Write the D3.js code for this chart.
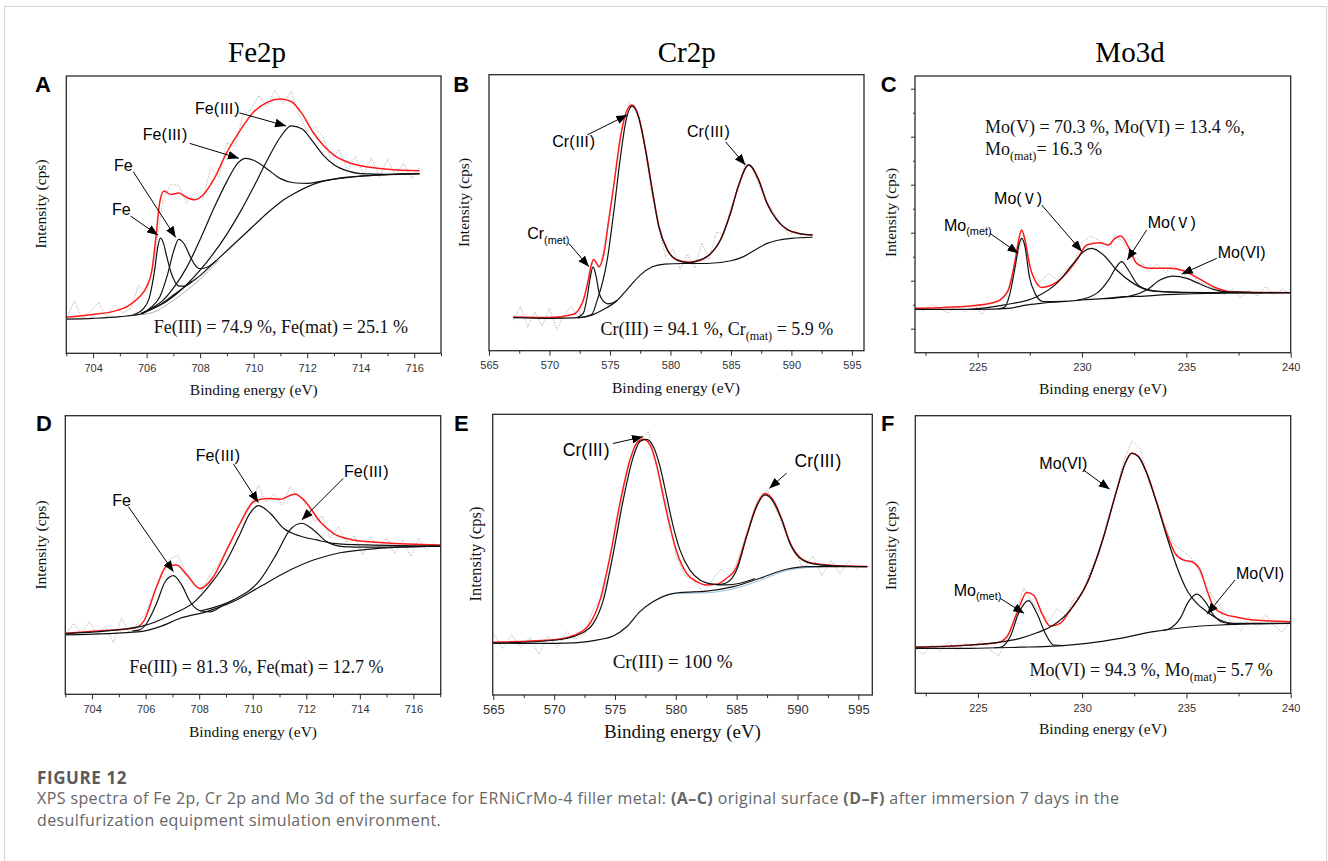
<!DOCTYPE html>
<html>
<head>
<meta charset="utf-8">
<script src="https://cdn.jsdelivr.net/npm/d3@7"></script>
<style>
body { margin: 0; background: #fff; }
</style>
</head>
<body>
<div id="fig"></div>
<script>

// ---- tick values ----
const feTicks = [704, 706, 708, 710, 712, 714, 716];
const feMinor = [703, 705, 707, 709, 711, 713, 715, 717];
const crTicks = [565, 570, 575, 580, 585, 590, 595];
const crMinor = [567.5, 572.5, 577.5, 582.5, 587.5, 592.5];
const moTicks = [225, 230, 235, 240];
const moMinor = [222.5, 227.5, 232.5, 237.5];
const moYTicks = [4000, 6000, 8000, 10000, 12000, 14000];
const moYMinor = [5000, 7000, 9000, 11000, 13000];

// ---- A: Fe 2p, original surface  [eV, intensity a.u.] ----
const feA_bg = [[703.0,12.3],[704.0,12.6],[705.0,13.2],[705.8,14.2],[706.1,15.6],[706.5,17.5],[707.0,21],[707.5,24.5],[708.0,28],[708.5,32.5],[709.0,37],[709.5,41.5],[710.0,46],[710.5,50.5],[711.0,54.5],[711.5,57.5],[712.0,60],[712.5,61.8],[713.0,62.8],[713.5,63.5],[714.0,63.9],[715.0,64.4],[716.2,64.8]];
const feA_bg2 = [[705.8,13.9],[706.3,15],[706.8,17.8],[707.3,21.2],[707.8,25],[708.3,29.5],[708.7,33.6]];
const feA_fe1 = [[705.5,13.9],[705.9,16.3],[706.1,20],[706.3,30],[706.42,38.5],[706.52,41.5],[706.62,40],[706.75,35],[706.9,29.5],[707.05,26],[707.2,24.3],[707.4,24.2],[707.7,26]];
const feA_fe2 = [[705.8,14.3],[706.2,16.8],[706.5,20.5],[706.8,29],[707.0,36.5],[707.2,41.1],[707.4,39.5],[707.6,35.5],[707.8,32],[708.0,30.5],[708.3,31.2],[708.6,33.4]];
const feA_fe3a = [[705.8,14.3],[706.2,16.3],[706.6,19],[707.0,23.5],[707.5,31],[708.0,41],[708.5,52],[709.0,62],[709.4,68.5],[709.7,70.3],[710.0,69.6],[710.5,66.5],[711.0,63],[711.5,61.5],[712.0,61.3],[712.5,62],[713.0,62.8],[714.0,63.9],[716.2,64.8]];
const feA_fe3b = [[705.8,14.3],[706.5,17.3],[707.0,20.5],[707.5,24.8],[708.0,30],[708.5,36],[709.0,43],[709.5,51],[710.0,60],[710.5,69.5],[711.0,78],[711.4,82],[711.8,81],[712.2,76.5],[712.6,71.5],[713.0,68],[713.5,65.8],[714.0,64.8],[715.0,64.5],[716.2,64.8]];
const feA_env = [[703.0,13],[704.0,14],[704.8,15.2],[705.3,17],[705.7,20],[706.0,24],[706.2,30],[706.35,42],[706.5,55],[706.65,58.5],[706.9,57.3],[707.2,57.8],[707.5,56.2],[707.8,55.4],[708.1,57],[708.5,62.5],[709.0,72.5],[709.5,80.5],[710.0,87],[710.5,90.5],[711.0,91.7],[711.4,90.8],[711.8,86.5],[712.2,80],[712.6,75],[713.0,71.5],[713.5,69],[714.0,67.6],[715.0,66.4],[716.2,65.8]];
const feA_raw = [12,19,12.5,15,18.5,13,17.5,14.5,16,24.5,22,34,55,61,60.5,54,58,55.5,67,63.5,76,74.5,86,88,93,89,95,90,94.5,86,80,81.5,78,70,73.5,66,71,64.5,70.5,63.5,70,64,68.5,63,67];

// ---- B: Cr 2p, original surface ----
const crB_bg = [[567.0,12],[570.0,11.7],[572.5,12],[573.5,12.9],[574.5,15],[575.5,17.8],[576.5,22.6],[577.5,27.4],[578.5,30.4],[579.5,31.4],[581.0,31.6],[583.0,31.6],[585.0,32.6],[586.0,34],[587.0,36.5],[588.0,38.9],[589.0,40.1],[590.0,40.7],[591.75,41.1]];
const crB_met = [[572.3,12],[572.8,13.6],[573.1,19],[573.35,26],[573.6,30.4],[573.85,27],[574.1,21],[574.4,18.2],[574.8,17],[575.2,17.3],[575.6,18.3]];
const crB_iii1 = [[572.5,12],[573.5,13.2],[573.95,18.4],[574.4,25],[574.77,32.8],[575.3,49.8],[575.87,70.3],[576.28,82.4],[576.84,88.6],[577.39,84.2],[577.94,72.7],[578.49,58.2],[579.04,44.9],[579.73,36.5],[580.55,32.9],[581.38,31.9],[582.2,31.6]];
const crB_iii2 = [[581.5,31.6],[581.9,32.2],[583.03,34.1],[584.13,40.1],[584.96,49.8],[585.64,60],[586.47,67.3],[587.3,61.8],[587.98,53.4],[588.81,47.3],[589.63,44],[590.6,42.5],[591.75,41.9]];
const crB_env = [[567.0,12.2],[570.0,12],[572.0,13.2],[572.5,15.5],[572.85,19],[573.2,25.5],[573.45,31],[573.67,33],[573.85,32],[574.08,30.4],[574.5,35.3],[574.9,47.3],[575.3,59.4],[575.87,77.5],[576.42,87.2],[576.84,89],[577.39,84.6],[577.94,73],[578.49,58.5],[579.04,45.2],[579.73,36.8],[580.28,33.5],[581.38,32.1],[581.9,32.2],[583.03,34.1],[584.13,40.1],[584.96,49.8],[585.64,60],[586.47,67.3],[587.3,61.8],[587.98,53.4],[588.81,47.3],[589.63,44],[590.6,42.5],[591.75,41.9]];
const crB_raw = [11,16,8.5,14,9,15.5,7.5,13,16,11.5,22,33,30,45,62,80,90,87,76,58,45,34,37,29.5,35,30,39,33,43,42,52,58,68,66,59,54,49.5,45.5,42,43.5,40.5,42.5];

// ---- C: Mo 3d, original surface  [eV, counts] ----
const moC_bg = [[222,4806],[225,4806],[226.5,4847],[227.3,4986],[228,5056],[229,5125],[230,5195],[231,5250],[232,5334],[233,5361],[234,5417],[235,5445],[236,5472],[237,5486],[240,5500]];
const moC_met = [[226.0,4830],[226.3,4900],[226.55,5472],[226.8,6584],[227.0,7556],[227.11,7764],[227.27,7417],[227.48,6167],[227.75,5472],[228.15,5125],[229.2,5135]];
const moC_v1 = [[224.6,4806],[226.23,4986],[227.83,5334],[228.79,5889],[229.59,6723],[230.07,7209],[230.47,7348],[231.03,7070],[231.66,6445],[232.46,5889],[233.26,5584],[234.22,5528],[235.82,5500],[237.4,5528],[238.5,5500]];
const moC_v2 = [[229.75,5180],[230.7,5472],[231.27,6028],[231.66,6584],[231.9,6792],[232.22,6445],[232.62,5889],[233.1,5639],[233.9,5542],[235.0,5514],[236.0,5500]];
const moC_vi = [[231.03,5250],[232.3,5361],[233.1,5611],[233.74,6028],[234.38,6195],[235.02,6097],[235.66,5861],[236.3,5639],[237.1,5528],[240,5500]];
const moC_env = [[222,4847],[224.6,4945],[225.9,5125],[226.47,5611],[226.8,6861],[227.0,7834],[227.11,8112],[227.27,7695],[227.51,6584],[227.83,5889],[228.07,5722],[228.55,5820],[229.1,6167],[229.75,6861],[230.23,7486],[230.87,7584],[231.27,7486],[231.58,7764],[231.86,7862],[232.22,7417],[232.62,6723],[233.26,6514],[234.22,6514],[234.86,6417],[235.58,6097],[236.3,5750],[237.1,5542],[240,5500]];
const moC_raw = [4900,4750,5000,4850,4650,4950,4700,5050,4600,5000,5200,5450,6800,7900,6300,5950,6300,6050,6450,6700,7600,7850,7700,7450,7900,7600,7050,6800,6400,6700,6350,6650,6250,6300,5950,5800,5650,5400,5650,5300,5600,5350,5750,5400,5650,5450];

// ---- D: Fe 2p, after immersion ----
const feD_bg = [[703.0,21.3],[705.8,22.5],[706.54,24.3],[707.29,27.3],[708.28,29.7],[709.28,33.3],[710.27,38.6],[711.27,44],[712.27,48.2],[713.26,50.8],[714.26,52],[715.5,52.8],[717.0,53.2]];
const feD_fe = [[705.5,22.7],[705.8,23.2],[706.04,25.5],[706.41,32.7],[706.73,40.4],[707.04,42.6],[707.35,39.2],[707.66,33.3],[708.03,30],[708.41,29.6],[708.8,31.4]];
const feD_iii1 = [[703.0,21.8],[705.8,24.3],[707.04,28.9],[707.8,33],[708.5,40.5],[709.0,47.5],[709.5,57],[709.9,65],[710.21,67.7],[710.65,65],[711.15,59.6],[711.77,56.8],[712.39,55.4],[713.01,54.2],[714.26,53.6],[717.0,53.2]];
const feD_iii2 = [[708.03,29.9],[709.28,33.9],[710.27,41],[710.9,50.6],[711.39,59],[711.83,61.4],[712.27,59],[712.76,54.8],[713.39,53],[714.26,52.8],[717.0,53.2]];
const feD_env = [[703.0,21.9],[704.3,22.8],[705.54,23.7],[705.92,26.1],[706.41,38.6],[706.79,46],[707.16,46.4],[707.54,42.8],[708.03,38],[708.53,42.2],[709.03,51.8],[709.53,61.4],[710.03,69.1],[710.52,70.3],[711.02,70],[711.58,71.9],[712.02,68.5],[712.51,62],[713.01,57.8],[713.76,55.4],[714.88,54.4],[717.0,53.6]];
const feD_raw = [21,25.5,22,26,21.5,24.5,18.5,27.5,22,25.5,29,36,44,48.5,50,44,40,37,43,46,52,56.5,63,67,75,69,72,68,74.5,71,69.5,62,64,56,60,54.5,57,50,56.5,53,56,50.5,55.5,49.5,56,51.5,55];

// ---- E: Cr 2p, after immersion ----
const crE_bg = [[565,18.6],[568.84,18.4],[571.58,18.6],[573.22,19.4],[574.86,21],[575.96,24.3],[577.05,29.7],[578.15,33.3],[579.25,35.6],[580.34,36.5],[582.53,37],[584.73,38.6],[586.92,41.6],[589.11,44.8],[590.75,45.7],[595.74,45.7]];
const crE_bg2 = [[580.3,36.2],[582.5,36.4],[584.7,37.8],[586.9,40.8],[589.1,44.3],[590.8,45.4],[592,45.6]];
const crE_iii1 = [[565,18.4],[570.2,19.6],[572.12,21.7],[573.22,25.5],[574.04,33.8],[574.86,50.5],[575.68,69.5],[576.51,84.9],[577.05,90.3],[577.6,91.1],[578.15,88.5],[578.7,81.4],[579.25,70.7],[579.79,60],[580.34,51.7],[581.16,44.5],[581.99,41],[583.08,39.5],[584.18,39.2],[585.27,39.8],[586.5,41.5]];
const crE_iii2 = [[583.36,39.2],[584.18,40],[585.0,44.5],[585.82,56.4],[586.64,67.1],[587.33,71.3],[588.01,68.9],[588.7,62.4],[589.38,54],[590.21,48.7],[591.3,46.7],[592.95,46],[595.74,45.7]];
const crE_env = [[565,18.8],[570.2,19.8],[572.12,22.2],[572.95,25.5],[573.77,33.8],[574.59,49.3],[575.41,68.3],[576.23,83.7],[576.78,89.7],[577.33,91.1],[577.88,89.1],[578.42,82],[578.97,70.7],[579.52,60],[580.07,51.1],[580.89,43.3],[581.71,40.4],[582.53,39.2],[583.36,39.5],[584.18,41.6],[585.0,45.5],[585.82,56.8],[586.64,67.6],[587.33,71.8],[588.01,69.4],[588.7,62.8],[589.38,54.4],[590.21,49],[591.3,46.9],[592.95,46.1],[595.74,45.8]];
const crE_raw = [22,16.5,21.5,17,20.5,14.5,21,17,22.5,20,21.5,31,35,48,68,84,90,94,80,68,50,42.5,41,36.5,41,45,42,50,60,70,73,66,58,51.5,45,49.5,42.5,48,43,48,44.5];

// ---- F: Mo 3d, after immersion ----
const moF_bg = [[222,16.2],[224.64,16.2],[227.03,16.6],[228.63,17],[230.23,18],[231.82,19.8],[233.42,22.2],[235.02,23.8],[236.62,24.6],[238.21,25],[240,25.2]];
const moF_met = [[225.8,16.4],[226.07,16.6],[226.55,20.4],[226.95,28.8],[227.43,33.4],[227.83,28.8],[228.23,21.6],[228.63,17.4],[229.11,17.2]];
const moF_vi1 = [[222,16.6],[224.64,17.4],[226.23,18.6],[227.03,19.8],[227.83,21.8],[228.63,24.6],[229.43,30],[230.23,39.6],[231.03,56.4],[231.66,73.2],[232.06,82.8],[232.38,86.4],[232.7,85.2],[233.1,79.2],[233.58,68.4],[234.06,56.4],[234.54,45.6],[235.02,37.2],[235.5,32.4],[235.98,29.4],[236.62,26.4],[237.26,25.2],[240,25.2]];
const moF_vi2 = [[233.9,22.6],[234.22,23.4],[234.7,27],[235.1,33],[235.5,35.7],[235.9,33],[236.3,28.2],[236.78,25.5],[237.42,24.8]];
const moF_env = [[222,16.6],[224.64,17.4],[225.91,18.2],[226.39,20.4],[226.87,28.8],[227.35,36.3],[227.67,35.4],[228.07,28.8],[228.47,24.2],[228.95,25.2],[229.43,30],[230.23,39.6],[231.03,56.4],[231.66,73.2],[232.06,82.8],[232.38,86.6],[232.7,85.4],[233.1,79.4],[233.58,68.7],[234.06,57.6],[234.46,50.4],[234.86,48],[235.26,47.4],[235.66,44.4],[235.98,37.2],[236.3,31.2],[236.78,28.6],[237.42,27.4],[238.21,26.4],[240,25.8]];
const moF_raw = [16,14,17.5,15,18.5,15.5,18,16,19,15.5,13.5,19.5,28,38,33,29,26,30.5,28,34,35.5,44.5,50,62,72,84,91,88,76,69,59,53.5,51.5,49,44,38,33.5,29.5,25,22.5,27.5,24,28.5,24.5,22,26];

// ---- labels ----
const III = "\u2162", V = "\u2164";
const feA_notes = [
    {label: [["Fe("], [III, false, true], [")"]], at: [708.64, 88.4], from: [709.47, 86.7], to: [711.21, 82.0]},
    {label: [["Fe("], [III, false, true], [")"]], at: [706.69, 79.1], from: [707.61, 75.7], to: [709.45, 70.3]},
    {label: [["Fe"]], at: [705.13, 67.9], from: [705.5, 65.5], to: [707.09, 41.8]},
    {label: [["Fe"]], at: [705.06, 52], from: [705.4, 49.5], to: [706.43, 42.6]}
];
const crB_notes = [
    {label: [["Cr("], [III, false, true], [")"]], at: [572.0, 75.7], from: [573.13, 78.2], to: [576.43, 85.4]},
    {label: [["Cr("], [III, false, true], [")"]], at: [583.14, 79.3], from: [584.55, 75.7], to: [586.2, 67.3]},
    {label: [["Cr"], ["(met)", true]], at: [568.16, 42.6], start: true, from: [571.6, 38.9], to: [573.26, 30.4]}
];
const moC_notes = [
    {label: [["Mo("], [V, false, true], [")"]], at: [226.94, 9446], from: [228.07, 9155], to: [229.99, 7221]},
    {label: [["Mo("], [V, false, true], [")"]], at: [234.3, 8417], from: [233.1, 8113], to: [232.17, 6863]},
    {label: [["Mo(VI)"]], at: [237.65, 7184], from: [236.46, 6934], to: [234.78, 6279]},
    {label: [["Mo"], ["(met)", true]], at: [223.39, 8321], start: true, from: [225.59, 7975], to: [226.95, 7142]}
];
const feD_notes = [
    {label: [["Fe"]], at: [705.1, 69.5], from: [705.36, 67.3], to: [707.04, 44]},
    {label: [["Fe("], [III, false, true], [")"]], at: [708.7, 85.9], from: [709.28, 82.7], to: [710.21, 68.8]},
    {label: [["Fe("], [III, false, true], [")"]], at: [714.24, 79.9], from: [713.38, 77.5], to: [711.83, 62.6]}
];
const crE_notes = [
    {label: [["Cr("], [III, false, true], [")"]], at: [572.63, 87.5], from: [574.84, 89.6], to: [577.3, 92]},
    {label: [["Cr("], [III, false, true], [")"]], at: [591.68, 83.5], from: [589.1, 79], to: [587.68, 73.6]}
];
const moF_notes = [
    {label: [["Mo(VI)"]], at: [229.1, 82.9], from: [230.07, 80.4], to: [231.32, 73.5]},
    {label: [["Mo(VI)"]], at: [238.53, 43.2], from: [237.33, 40.8], to: [236.0, 28.6]},
    {label: [["Mo"], ["(met)", true]], at: [223.84, 37.2], start: true, from: [226.07, 34.2], to: [227.22, 28.8]}
];

const serif = "'Liberation Serif', 'Times New Roman', serif";
const sans = "'Liberation Sans', Arial, sans-serif";
const cjk = "'Noto Sans CJK SC', 'Liberation Sans', sans-serif";

const width = 1328;
const height = 861;

const svg = d3.select("#fig")
    .append("svg")
    .attr("width", width)
    .attr("height", height)
    .style("background", "#fff");

svg.append("defs")
    .append("marker")
    .attr("id", "arrow")
    .attr("viewBox", "0 0 10 8")
    .attr("refX", 10)
    .attr("refY", 4)
    .attr("markerWidth", 11)
    .attr("markerHeight", 9)
    .attr("markerUnits", "userSpaceOnUse")
    .attr("orient", "auto")
    .append("path")
    .attr("d", "M0,0L10,4L0,8Z")
    .attr("fill", "#000");

// outer frame of the figure block
svg.append("rect")
    .attr("x", 4.5).attr("y", 6.5)
    .attr("width", 1322).attr("height", 900)
    .attr("fill", "none")
    .attr("stroke", "#d6d6d6");

const panels = [
    {id: "A", box: [66.3, 441, 76, 353.3], xd: [703, 717], yd: [0, 100], ticks: feTicks, minor: feMinor,
     raw: {start: 703.0, step: 0.3, values: feA_raw}, thin: [feA_bg2], env: feA_env,
     lines: [feA_bg, feA_fe1, feA_fe2, feA_fe3a, feA_fe3b], notes: feA_notes,
     comp: [{at: [706.27, 7.3], parts: [["Fe(III) = 74.9 %, Fe(mat) = 25.1 %"]]}],
     letter: [35, 92], ylab: [40, 204], xlab: [253.8, 395], big: false},
    {id: "B", box: [489, 864, 74.7, 350.7], xd: [565, 596], yd: [0, 100], ticks: crTicks, minor: crMinor,
     raw: {start: 567.0, step: 0.6, values: crB_raw}, thin: [], env: crB_env,
     lines: [crB_bg, crB_met, crB_iii1, crB_iii2], notes: crB_notes,
     comp: [{at: [574.22, 5.7], parts: [["Cr(III) = 94.1 %, Cr"], ["(mat)", true], [" = 5.9 %"]]}],
     letter: [453.3, 92], ylab: [463.3, 202.5], xlab: [676, 392.7], big: false},
    {id: "C", box: [915, 1290.7, 76, 352.7], xd: [222, 240], yd: [3000, 14530], ticks: moTicks, minor: moMinor,
     yticks: moYTicks, yminor: moYMinor,
     raw: {start: 222, step: 0.4, values: moC_raw}, thin: [], env: moC_env,
     lines: [moC_bg, moC_met, moC_v1, moC_v2, moC_vi], notes: moC_notes,
     comp: [{at: [225.35, 12142], parts: [["Mo(V) = 70.3 %, Mo(VI) = 13.4 %,"]]},
            {at: [225.35, 11238], parts: [["Mo"], ["(mat)", true], ["= 16.3 %"]]}],
     letter: [880.7, 92], ylab: [890.7, 212.5], xlab: [1103, 394.3], big: false},
    {id: "D", box: [65.3, 440.7, 415.7, 694.3], xd: [703, 717.02], yd: [0, 100], ticks: feTicks, minor: feMinor,
     raw: {start: 703.0, step: 0.3, values: feD_raw}, thin: [], env: feD_env,
     lines: [feD_bg, feD_fe, feD_iii1, feD_iii2], notes: feD_notes,
     comp: [{at: [705.39, 7.5], parts: [["Fe(III) = 81.3 %, Fe(mat) = 12.7 %"]]}],
     letter: [36, 430.7], ylab: [40, 545], xlab: [253, 737.3], big: false},
    {id: "E", box: [492.7, 872.3, 414.3, 695], xd: [564.95, 596.15], yd: [0, 100], ticks: crTicks, minor: crMinor,
     raw: {start: 565.0, step: 0.75, values: crE_raw}, thin: [], blue: crE_bg2, env: crE_env,
     lines: [crE_bg, crE_iii1, crE_iii2], notes: crE_notes,
     comp: [{at: [574.81, 9.5], parts: [["Cr(III) = 100 %"]]}],
     letter: [454, 431], ylab: [475, 554], xlab: [682.5, 738.3], big: true},
    {id: "F", box: [915.3, 1290.7, 415.7, 693.3], xd: [222, 240], yd: [0, 100], ticks: moTicks, minor: moMinor,
     raw: {start: 222, step: 0.4, values: moF_raw}, thin: [], env: moF_env,
     lines: [moF_bg, moF_met, moF_vi1, moF_vi2], notes: moF_notes,
     comp: [{at: [227.48, 6.2], parts: [["Mo(VI) = 94.3 %, Mo"], ["(mat)", true], ["= 5.7 %"]]}],
     letter: [881, 431], ylab: [890, 545.5], xlab: [1103, 734], big: false}
];

// parts: [text, subscript?, numeral-glyph?]
let addParts = function(text, parts, fs) {
    let down = false;
    parts.forEach(function(p) {
        let t = text.append("tspan").text(p[0]);
        if (p[2]) t.style("font-family", cjk).style("font-size", (fs * 0.95) + "px");
        if (p[1] && !down) {
            t.attr("dy", fs * 0.3).style("font-size", (fs * 0.68) + "px");
            down = true;
        } else if (!p[1] && down) {
            t.attr("dy", -fs * 0.3);
            down = false;
        }
    });
};

let drawPanel = function(p) {
    let x = d3.scaleLinear().domain(p.xd).range([p.box[0], p.box[1]]);
    let y = d3.scaleLinear().domain(p.yd).range([p.box[3], p.box[2]]);
    let g = svg.append("g").attr("class", "panel-" + p.id);

    g.append("clipPath")
        .attr("id", "clip-" + p.id)
        .append("rect")
        .attr("x", p.box[0]).attr("y", p.box[2])
        .attr("width", p.box[1] - p.box[0])
        .attr("height", p.box[3] - p.box[2]);

    let plot = g.append("g").attr("clip-path", `url(#clip-${p.id})`);

    let smooth = d3.line().x(d => x(d[0])).y(d => y(d[1])).curve(d3.curveMonotoneX);
    let straight = d3.line().x(d => x(d[0])).y(d => y(d[1]));

    let rawPts = p.raw.values.map((v, i) => [p.raw.start + i * p.raw.step, v]);
    plot.append("path")
        .attr("d", straight(rawPts))
        .attr("fill", "none")
        .attr("stroke", "#b4b4b4")
        .attr("stroke-width", 1)
        .attr("stroke-dasharray", "1.3,1.3");

    p.thin.forEach(function(d) {
        plot.append("path")
            .attr("d", smooth(d))
            .attr("fill", "none")
            .attr("stroke", "#9a9a9a")
            .attr("stroke-width", 0.8);
    });

    if (p.blue) {
        plot.append("path")
            .attr("d", smooth(p.blue))
            .attr("fill", "none")
            .attr("stroke", "#8fc0e0")
            .attr("stroke-width", 1);
    }

    plot.append("path")
        .attr("d", smooth(p.env))
        .attr("fill", "none")
        .attr("stroke", "#ff1a1a")
        .attr("stroke-width", 1.5);

    plot.selectAll("path.comp")
        .data(p.lines)
        .join("path")
        .classed("comp", true)
        .attr("d", d => smooth(d))
        .attr("fill", "none")
        .attr("stroke", "#111")
        .attr("stroke-width", 1.2);

    // frame
    g.append("rect")
        .attr("x", p.box[0]).attr("y", p.box[2])
        .attr("width", p.box[1] - p.box[0])
        .attr("height", p.box[3] - p.box[2])
        .attr("fill", "none")
        .attr("stroke", "#2a2a2a")
        .attr("stroke-width", 1.3);

    let fs = p.big ? 13 : 11;
    let xAxis = g.append("g")
        .attr("transform", `translate(0, ${p.box[3]})`)
        .call(d3.axisBottom(x).tickValues(p.ticks).tickSize(5).tickPadding(p.big ? 5 : 6).tickFormat(d3.format("d")));
    xAxis.select(".domain").remove();
    xAxis.selectAll("line").attr("stroke", "#2a2a2a");
    xAxis.selectAll("text")
        .attr("fill", "#333")
        .style("font-family", sans)
        .style("font-size", fs + "px");

    let xMinor = g.append("g")
        .attr("transform", `translate(0, ${p.box[3]})`)
        .call(d3.axisBottom(x).tickValues(p.minor).tickSize(3).tickFormat(""));
    xMinor.select(".domain").remove();
    xMinor.selectAll("line").attr("stroke", "#2a2a2a");

    if (p.yticks) {
        let yAxis = g.append("g")
            .attr("transform", `translate(${p.box[0]}, 0)`)
            .call(d3.axisLeft(y).tickValues(p.yticks).tickSize(4).tickFormat(""));
        yAxis.select(".domain").remove();
        yAxis.selectAll("line").attr("stroke", "#2a2a2a");
        let yMinor = g.append("g")
            .attr("transform", `translate(${p.box[0]}, 0)`)
            .call(d3.axisLeft(y).tickValues(p.yminor).tickSize(2).tickFormat(""));
        yMinor.select(".domain").remove();
        yMinor.selectAll("line").attr("stroke", "#2a2a2a");
    }

    g.append("text")
        .attr("x", p.xlab[0]).attr("y", p.xlab[1])
        .attr("text-anchor", "middle")
        .style("font-family", serif)
        .style("font-size", (p.big ? 19 : 15.5) + "px")
        .attr("fill", "#111")
        .text("Binding energy (eV)");

    g.append("text")
        .attr("transform", `translate(${p.ylab[0]}, ${p.ylab[1]}) rotate(-90)`)
        .attr("text-anchor", "middle")
        .attr("dominant-baseline", "central")
        .style("font-family", serif)
        .style("font-size", (p.big ? 16.5 : 15.5) + "px")
        .attr("fill", "#111")
        .text("Intensity (cps)");

    g.append("text")
        .attr("x", p.letter[0]).attr("y", p.letter[1])
        .style("font-family", sans)
        .style("font-weight", "bold")
        .style("font-size", "22px")
        .attr("fill", "#000")
        .text(p.id);

    // composition text
    let cfs = p.big ? 19 : 18;
    p.comp.forEach(function(c) {
        let t = g.append("text")
            .attr("x", x(c.at[0])).attr("y", y(c.at[1]))
            .style("font-family", serif)
            .style("font-size", cfs + "px")
            .attr("fill", "#111");
        addParts(t, c.parts, cfs);
    });

    // peak labels with arrows
    let lfs = p.big ? 17.5 : 16;
    p.notes.forEach(function(n) {
        g.append("line")
            .attr("x1", x(n.from[0])).attr("y1", y(n.from[1]))
            .attr("x2", x(n.to[0])).attr("y2", y(n.to[1]))
            .attr("stroke", "#000")
            .attr("stroke-width", 1)
            .attr("marker-end", "url(#arrow)");
        let t = g.append("text")
            .attr("x", x(n.at[0])).attr("y", y(n.at[1]))
            .attr("text-anchor", n.start ? "start" : "middle")
            .attr("dy", "0.35em")
            .style("font-family", sans)
            .style("font-size", lfs + "px")
            .attr("fill", "#000");
        addParts(t, n.label, lfs);
    });
};

panels.forEach(drawPanel);

// column titles
const titles = ["Fe2p", "Cr2p", "Mo3d"];
const titleX = [257, 686.7, 1130];
svg.selectAll("text.title")
    .data(titles)
    .join("text")
    .classed("title", true)
    .attr("x", (d, i) => titleX[i])
    .attr("y", 62)
    .attr("text-anchor", "middle")
    .style("font-family", serif)
    .style("font-size", "29px")
    .attr("fill", "#000")
    .text(d => d);

// caption
const captionFont = "'Open Sans', 'Noto Sans', sans-serif";
svg.append("text")
    .attr("x", 37).attr("y", 784)
    .style("font-family", captionFont)
    .style("font-weight", "bold")
    .style("font-size", "17px")
    .style("letter-spacing", "0.6px")
    .attr("fill", "#5a5a5a")
    .text("FIGURE 12");

const captionLines = [
    [["XPS spectra of Fe 2p, Cr 2p and Mo 3d of the surface for ERNiCrMo-4 filler metal: "], ["(A\u2013C)", true], [" original surface "], ["(D\u2013F)", true], [" after immersion 7 days in the"]],
    [["desulfurization equipment simulation environment."]]
];
captionLines.forEach(function(line, i) {
    let t = svg.append("text")
        .attr("x", 37).attr("y", 804 + i * 21.5)
        .style("font-family", captionFont)
        .style("font-size", "16px")
        .style("letter-spacing", "0.4px")
        .attr("fill", "#666");
    line.forEach(function(p) {
        t.append("tspan").text(p[0]).style("font-weight", p[1] ? "bold" : "normal");
    });
});

</script>
</body>
</html>
